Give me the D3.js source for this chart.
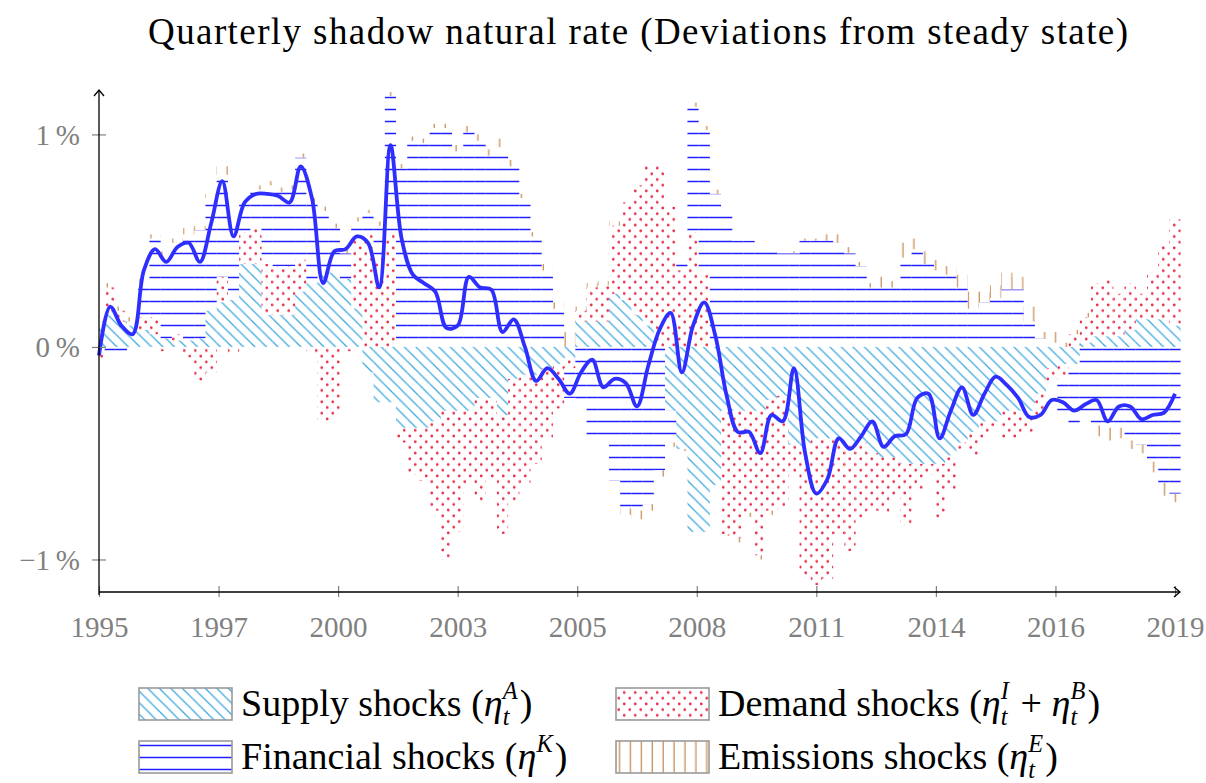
<!DOCTYPE html>
<html>
<head>
<meta charset="utf-8">
<script src="https://cdn.jsdelivr.net/npm/d3@7"></script>
<style>
  body { margin: 0; background: #fff; }
  svg { display: block; font-family: "Liberation Serif", "DejaVu Serif", serif; }
  text { white-space: pre; }
</style>
</head>
<body>
<svg id="chart" width="1206" height="783"></svg>
<script>
// Quarterly contributions, 1995Q1 .. 2019Q1 (97 quarters), in percent.
const supply = [
  0.12, 0.15, 0.12, 0.10, 0.08, 0.06, 0.04, 0.03, 0.03, 0.04,
  0.17, 0.21, 0.22, 0.39, 0.39, 0.15, 0.15, 0.15, 0.26, 0.30,
  0.35, 0.35, 0.32, 0.18, -0.12, -0.26, -0.26, -0.38, -0.38, -0.38,
  -0.35, -0.30, -0.30, -0.30, -0.24, -0.24, -0.32, -0.15, -0.13, -0.13,
  -0.10, -0.08, -0.05, 0.12, 0.12, 0.12, 0.25, 0.22, 0.15, 0.10,
  0.00, -0.30, -0.48, -0.87, -0.87, -0.65, -0.30, -0.30, -0.30, -0.30,
  -0.25, -0.23, -0.46, -0.48, -0.43, -0.43, -0.43, -0.45, -0.45, -0.50,
  -0.52, -0.52, -0.55, -0.55, -0.55, -0.55, -0.51, -0.45, -0.40, -0.35,
  -0.35, -0.30, -0.30, -0.30, -0.22, -0.10, -0.08, -0.08, 0.02, 0.05,
  0.05, 0.05, 0.08, 0.13, 0.13, 0.13, 0.10
];
const demand = [
  -0.06, 0.13, 0.05, 0.01, 0.06, 0.08, -0.02, 0.03, -0.05, -0.16,
  -0.12, 0.12, -0.03, 0.15, 0.17, 0.24, 0.23, 0.23, 0.15, -0.03,
  -0.35, -0.33, -0.02, 0.34, 0.53, 0.42, 0.53, -0.07, -0.22, -0.25,
  -0.42, -0.70, -0.57, -0.35, -0.49, -0.38, -0.56, -0.58, -0.52, -0.42,
  -0.33, -0.21, -0.05, 0.05, 0.16, 0.17, 0.32, 0.46, 0.61, 0.76,
  0.86, 0.66, 0.36, 0.54, 0.34, 0.00, -0.58, -0.60, -0.48, -0.68,
  -0.52, -0.53, -0.14, -0.60, -0.69, -0.66, -0.45, -0.51, -0.36, -0.27,
  -0.26, -0.18, -0.29, -0.12, -0.05, -0.26, -0.16, -0.03, -0.11, -0.08,
  -0.03, -0.13, -0.13, -0.11, -0.10, -0.06, -0.06, 0.06, 0.12, 0.25,
  0.27, 0.20, 0.22, 0.12, 0.22, 0.35, 0.50
];
const financial = [
  0.03, -0.03, -0.02, 0.01, 0.16, 0.37, 0.39, 0.43, 0.50, 0.51,
  0.53, 0.48, 0.34, 0.15, 0.18, 0.37, 0.35, 0.36, 0.48, 0.38,
  0.29, 0.21, 0.12, 0.07, 0.10, 0.15, 0.65, 0.84, 0.97, 0.96,
  1.03, 1.03, 0.92, 1.01, 0.97, 0.90, 0.94, 0.85, 0.70, 0.52,
  0.36, 0.18, -0.14, -0.25, -0.42, -0.45, -0.63, -0.76, -0.77, -0.74,
  -0.58, -0.15, 0.05, 0.59, 0.68, 0.72, 0.62, 0.50, 0.50, 0.48,
  0.48, 0.44, 0.44, 0.50, 0.50, 0.50, 0.49, 0.44, 0.38, 0.28,
  0.28, 0.28, 0.42, 0.46, 0.39, 0.36, 0.34, 0.28, 0.18, 0.21,
  0.23, 0.27, 0.27, 0.12, 0.04, 0.02, -0.17, -0.28, -0.32, -0.37,
  -0.38, -0.38, -0.44, -0.46, -0.54, -0.64, -0.69
];
const emissions = [
  0.00, 0.02, 0.02, 0.02, 0.02, 0.02, 0.02, 0.02, 0.03, 0.02,
  0.02, 0.04, 0.02, 0.02, 0.02, 0.02, 0.02, 0.02, 0.02, 0.02,
  0.02, 0.02, 0.02, 0.02, 0.015, 0.02, 0.02, 0.02, 0.02, 0.02,
  0.02, 0.02, 0.03, 0.03, 0.03, 0.03, 0.04, 0.03, 0.02, 0.02,
  0.03, 0.03, 0.07, 0.02, 0.02, 0.02, 0.02, -0.03, -0.04, -0.03,
  -0.03, -0.02, -0.01, 0.02, 0.02, 0.02, -0.01, -0.02, -0.02, -0.02,
  -0.02, 0.00, 0.01, 0.01, 0.01, 0.03, 0.04, 0.03, 0.02, 0.02,
  0.05, 0.03, 0.07, 0.05, 0.06, 0.05, 0.04, 0.06, 0.08, 0.05,
  0.06, 0.08, 0.06, 0.07, 0.03, 0.05, 0.02, 0.02, 0.02, -0.05,
  -0.06, -0.05, -0.04, -0.04, -0.05, -0.06, -0.04
];
const shadowRate = [
  -0.04, 0.19, 0.10, 0.06, 0.36, 0.46, 0.40, 0.47, 0.49, 0.40,
  0.58, 0.78, 0.52, 0.68, 0.72, 0.72, 0.71, 0.68, 0.85, 0.70,
  0.30, 0.45, 0.46, 0.52, 0.49, 0.28, 0.95, 0.51, 0.34, 0.30,
  0.26, 0.09, 0.10, 0.33, 0.28, 0.27, 0.07, 0.13, 0.00, -0.16,
  -0.10, -0.15, -0.22, -0.12, -0.06, -0.19, -0.15, -0.17, -0.28, -0.09,
  0.08, 0.16, -0.12, 0.10, 0.21, 0.05, -0.23, -0.40, -0.40, -0.50,
  -0.32, -0.35, -0.10, -0.50, -0.69, -0.62, -0.43, -0.48, -0.42, -0.35,
  -0.47, -0.42, -0.41, -0.24, -0.22, -0.43, -0.30, -0.19, -0.32, -0.22,
  -0.14, -0.18, -0.24, -0.33, -0.32, -0.25, -0.26, -0.30, -0.27, -0.25,
  -0.35, -0.28, -0.28, -0.34, -0.32, -0.31, -0.22
];
const xTickLabels = ["1995", "1997", "2000", "2003", "2005", "2008", "2011", "2014", "2016", "2019"];
const yTickValues = [-1, 0, 1];
const seriesKeys = ["supply", "demand", "financial", "emissions"];

const svg = d3.select("#chart");
const H = 783;
const plotLeft = 99, plotRight = 1175, axisRight = 1180, plotTop = 90, plotBottom = 592;

const x = d3.scaleLinear().domain([0, shadowRate.length - 1]).range([plotLeft, plotRight]);
const y = d3.scaleLinear().domain([-1.153, 1.209]).range([plotBottom, plotTop]);
const barW = x(1) - x(0);

// Patterns, anchored to the page so neighbouring bars line up.
const defs = svg.append("defs");
const makePattern = (id, w, h) => defs.append("pattern")
  .attr("id", id).attr("patternUnits", "userSpaceOnUse")
  .attr("width", w).attr("height", h);

const ph = makePattern("pSupply", 11.5, 11.5);
ph.append("path")
  .attr("d", "M-1,-1L12.5,12.5M-1,10.5L1,12.5M10.5,-1L12.5,1")
  .attr("stroke", "#3fa9df").attr("stroke-width", 1.3).attr("fill", "none");

const pd = makePattern("pDemand", 11, 11.4);
pd.append("circle").attr("cx", 2.75).attr("cy", 2.85).attr("r", 1.4).attr("fill", "#e8304d");
pd.append("circle").attr("cx", 8.25).attr("cy", 8.55).attr("r", 1.4).attr("fill", "#e8304d");

const pf = makePattern("pFinancial", 10, 12);
pf.append("path").attr("d", "M0,1.5H10")
  .attr("stroke", "#1f1fff").attr("stroke-width", 1.5);

const pe = makePattern("pEmissions", 10.9, 10);
pe.append("path").attr("d", "M9.2,0V10")
  .attr("stroke", "#c98f58").attr("stroke-width", 1.3);

const fills = {
  supply: "url(#pSupply)",
  demand: "url(#pDemand)",
  financial: "url(#pFinancial)",
  emissions: "url(#pEmissions)"
};

defs.append("clipPath").attr("id", "plotClip")
  .append("rect").attr("x", plotLeft).attr("y", 0).attr("width", axisRight + 2 - plotLeft).attr("height", H);

// Stacked bars (positive and negative parts stack separately).
const rows = supply.map((s, i) => ({
  supply: s, demand: demand[i], financial: financial[i], emissions: emissions[i]
}));
const stacked = d3.stack().keys(seriesKeys).offset(d3.stackOffsetDiverging)(rows);

const bars = svg.append("g").attr("clip-path", "url(#plotClip)");
bars.selectAll("g")
  .data(stacked)
  .join("g")
  .attr("fill", d => fills[d.key])
  .selectAll("rect")
  .data(d => d.map((v, i) => ({ v, i })))
  .join("rect")
  .attr("x", d => x(d.i) - barW / 2)
  .attr("width", barW)
  .attr("y", d => y(Math.max(d.v[0], d.v[1])))
  .attr("height", d => Math.abs(y(d.v[0]) - y(d.v[1])));

// Shadow rate line.
const line = d3.line()
  .x((d, i) => x(i))
  .y(d => y(d))
  .curve(d3.curveCatmullRom.alpha(0.5));

svg.append("path")
  .datum(shadowRate)
  .attr("d", line)
  .attr("fill", "none")
  .attr("stroke", "#2e2eff")
  .attr("stroke-width", 3.8)
  .attr("stroke-linejoin", "round");

// Axes.
const gray = "#808080";
const xTickPos = d3.range(xTickLabels.length).map(k => k * (shadowRate.length - 1) / (xTickLabels.length - 1));
const xAxis = d3.axisBottom(x).tickValues(xTickPos).tickFormat((d, i) => xTickLabels[i]).tickSize(0);
const gx = svg.append("g").attr("transform", `translate(0,${plotBottom})`).call(xAxis);
gx.select(".domain").remove();
gx.selectAll(".tick line").attr("y1", -6).attr("y2", 5).attr("stroke", gray).attr("stroke-width", 1.2);
gx.selectAll(".tick text")
  .attr("y", 45).attr("dy", null)
  .attr("font-family", "Liberation Serif, serif")
  .attr("font-size", 29).attr("fill", gray);

const yAxis = d3.axisLeft(y).tickValues(yTickValues)
  .tickFormat(d => (d < 0 ? "\u2212" : "") + Math.abs(d) + "\u2009%").tickSize(0);
const gy = svg.append("g").attr("transform", `translate(${plotLeft},0)`).call(yAxis);
gy.select(".domain").remove();
gy.selectAll(".tick line").attr("x1", -7).attr("x2", 7).attr("stroke", gray).attr("stroke-width", 1.2);
gy.selectAll(".tick text")
  .attr("x", -19).attr("dy", "0.34em")
  .attr("font-family", "Liberation Serif, serif")
  .attr("font-size", 29).attr("fill", gray);

const axes = svg.append("g").attr("stroke", "#000").attr("stroke-width", 1.3).attr("fill", "none");
axes.append("path").attr("d", `M${plotLeft},${plotBottom + 3}V${plotTop}`);
axes.append("path").attr("d", `M${plotLeft - 5},${plotTop + 6}L${plotLeft},${plotTop}L${plotLeft + 5},${plotTop + 6}`);
axes.append("path").attr("d", `M${plotLeft},${plotBottom}H${axisRight}`);
axes.append("path").attr("d", `M${axisRight - 6},${plotBottom - 5}L${axisRight},${plotBottom}L${axisRight - 6},${plotBottom + 5}`);

// Title.
svg.append("text")
  .attr("x", 638).attr("y", 44)
  .attr("text-anchor", "middle")
  .attr("font-size", 37)
  .attr("textLength", 980).attr("lengthAdjust", "spacing")
  .text("Quarterly shadow natural rate (Deviations from steady state)");

// Legend: plain text runs plus stacked super/subscripts.
function richText(g, x0, y0, size, parts) {
  let cx = x0;
  parts.forEach(p => {
    if (p.sup !== undefined || p.sub !== undefined) {
      let w = 0;
      if (p.sup) {
        const t = g.append("text").attr("x", cx).attr("y", y0 - size * 0.45)
          .attr("font-size", size * 0.64).attr("font-style", "italic").text(p.sup);
        w = Math.max(w, t.node().getComputedTextLength());
      }
      if (p.sub) {
        const t = g.append("text").attr("x", cx).attr("y", y0 + size * 0.24)
          .attr("font-size", size * 0.64).attr("font-style", "italic").text(p.sub);
        w = Math.max(w, t.node().getComputedTextLength());
      }
      cx += w + size * 0.06;
    } else {
      const t = g.append("text").attr("x", cx).attr("y", y0)
        .attr("font-size", size).attr("font-style", p.it ? "italic" : null).text(p.t);
      cx += t.node().getComputedTextLength();
    }
  });
}

const legendItems = [
  { key: "supply", bx: 139, by: 688, parts: [{ t: "Supply shocks (" }, { t: "\u03b7", it: true }, { sup: "A", sub: "t" }, { t: ")" }] },
  { key: "demand", bx: 616, by: 688, parts: [{ t: "Demand shocks (" }, { t: "\u03b7", it: true }, { sup: "I", sub: "t" }, { t: " + " }, { t: "\u03b7", it: true }, { sup: "B", sub: "t" }, { t: ")" }] },
  { key: "financial", bx: 139, by: 741, parts: [{ t: "Financial shocks (" }, { t: "\u03b7", it: true }, { sup: "K" }, { t: ")" }] },
  { key: "emissions", bx: 616, by: 741, parts: [{ t: "Emissions shocks (" }, { t: "\u03b7", it: true }, { sup: "E", sub: "t" }, { t: ")" }] }
];

const legend = svg.append("g");
legendItems.forEach(item => {
  legend.append("rect")
    .attr("x", item.bx).attr("y", item.by)
    .attr("width", 93).attr("height", 32)
    .attr("fill", fills[item.key])
    .attr("stroke", "#9a9a9a").attr("stroke-width", 1.6);
  richText(legend, item.bx + 102, item.by + 28, 38, item.parts);
});
</script>
</body>
</html>
